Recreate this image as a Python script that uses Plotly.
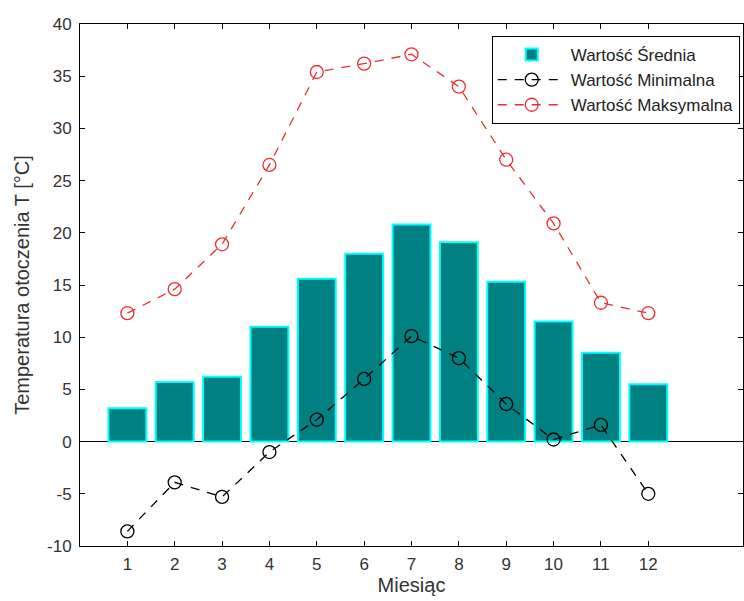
import plotly.graph_objects as go

months = list(range(1, 13))
mean_vals = [3.2, 5.7, 6.2, 11.0, 15.6, 18.0, 20.8, 19.1, 15.3, 11.5, 8.5, 5.5]
min_vals = [-8.6, -3.9, -5.3, -1.0, 2.1, 6.0, 10.1, 8.0, 3.6, 0.2, 1.6, -5.0]
max_vals = [12.3, 14.6, 18.9, 26.5, 35.4, 36.2, 37.1, 34.0, 27.0, 20.9, 13.3, 12.3]
y_ticks = list(range(-10, 45, 5))

fig = go.Figure()
fig.add_trace(go.Bar(
    x=months, y=mean_vals, name="Wartość Średnia", width=0.8,
    marker=dict(color="#008080", line=dict(color="#00FFFF", width=2)),
))
fig.add_trace(go.Scatter(
    x=months, y=min_vals, name="Wartość Minimalna", mode="lines+markers",
    line=dict(color="black", width=1.3, dash="9px,8px"),
    marker=dict(symbol="circle-open", size=13, color="black", line=dict(width=1.3)),
))
fig.add_trace(go.Scatter(
    x=months, y=max_vals, name="Wartość Maksymalna", mode="lines+markers",
    line=dict(color="#E8302F", width=1.3, dash="9px,8px"),
    marker=dict(symbol="circle-open", size=13, color="#E8302F", line=dict(width=1.3)),
))

axis_common = dict(showline=True, linecolor="black", linewidth=1, mirror="ticks",
                   ticks="inside", ticklen=5, tickcolor="black", showgrid=False,
                   tickfont=dict(size=17, color="#333333"))

fig.update_layout(
    width=744, height=601,
    margin=dict(l=80, r=1, t=24, b=55),
    paper_bgcolor="white", plot_bgcolor="white",
    font=dict(family="Liberation Sans, Arial, sans-serif", color="#333333"),
    showlegend=True,
    legend=dict(x=0.621, y=0.977, xanchor="left", yanchor="top",
                bgcolor="white", bordercolor="black", borderwidth=1,
                font=dict(size=17, color="#222222"), tracegroupgap=0,
                itemwidth=68),
    xaxis=dict(range=[0, 14], tickmode="array", tickvals=months,
               ticktext=[str(m) for m in months],
               title=dict(text="Miesiąc", font=dict(size=20), standoff=4),
               ticklabelstandoff=3,
               zeroline=False, **axis_common),
    yaxis=dict(range=[-10, 40], tickmode="array", tickvals=y_ticks,
               ticktext=[str(v) for v in y_ticks],
               title=dict(text="Temperatura otoczenia T [°C]", font=dict(size=20), standoff=12),
               ticklabelstandoff=4,
               zeroline=True, zerolinecolor="black", zerolinewidth=1,
               **axis_common),
)

fig.write_html("out.html")
